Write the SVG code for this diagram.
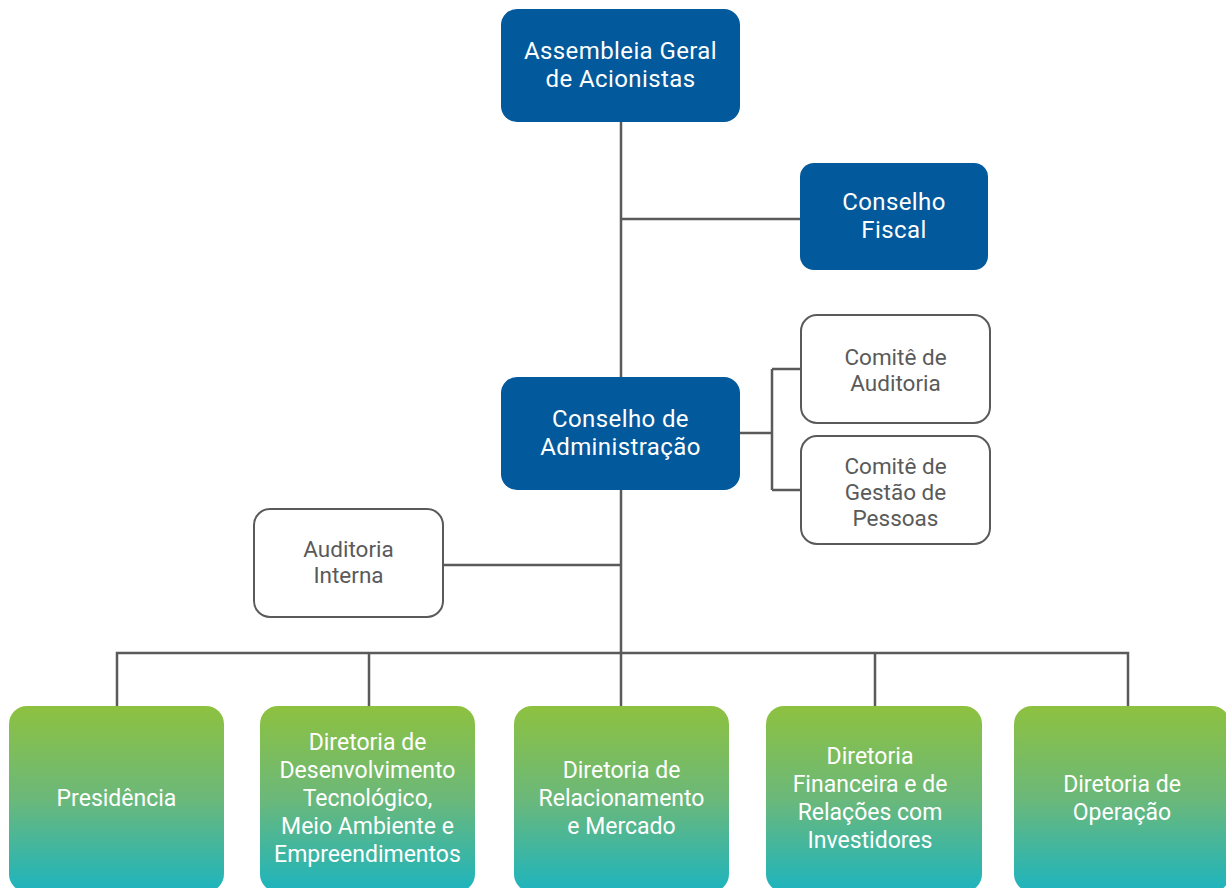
<svg xmlns="http://www.w3.org/2000/svg" width="1226" height="888" viewBox="0 0 1226 888">
<style>
.blue{fill:#02599b}
.white{fill:#fff;stroke:#5a5a5a;stroke-width:2}
.grad{fill:url(#g)}
.tw{fill:#fff;font-family:Roboto,"Liberation Sans",sans-serif;font-size:24px;letter-spacing:0.4px;text-anchor:middle}
.tg{fill:#5a5a5a;font-family:Roboto,"Liberation Sans",sans-serif;font-size:22.5px;text-anchor:middle}
.tb{fill:#fff;font-family:Roboto,"Liberation Sans",sans-serif;font-size:23px;text-anchor:middle}
.c{fill:none;stroke:#5a5a5a;stroke-width:2.5}
</style>
<defs>
<linearGradient id="g" x1="0" y1="0" x2="0" y2="1">
<stop offset="0" stop-color="#8dc13f"/>
<stop offset="0.5" stop-color="#6bb87a"/>
<stop offset="1" stop-color="#1db4bf"/>
</linearGradient>
</defs>
<rect width="1226" height="888" fill="#fff"/>
<g id="connectors">
<path class="c" d="M621 122V706"/>
<path class="c" d="M621 219H800"/>
<path class="c" d="M740 433H772M772 369V490M772 369H801M772 490H801"/>
<path class="c" d="M443 565H621"/>
<path class="c" d="M117 706V653H1128V706M369 653V706M875 653V706"/>
</g>
<g id="assembleia">
<rect class="blue" x="501" y="9" width="239" height="113" rx="16"/>
<text class="tw" x="620.5" y="59">Assembleia Geral</text>
<text class="tw" x="620.5" y="87">de Acionistas</text>
</g>
<g id="conselho-fiscal">
<rect class="blue" x="800" y="163" width="188" height="107" rx="14"/>
<text class="tw" x="894" y="210">Conselho</text>
<text class="tw" x="894" y="238">Fiscal</text>
</g>
<g id="conselho-adm">
<rect class="blue" x="501" y="377" width="239" height="113" rx="16"/>
<text class="tw" x="620.5" y="427">Conselho de</text>
<text class="tw" x="620.5" y="455">Administração</text>
</g>
<g id="comite-auditoria">
<rect class="white" x="801" y="315" width="189" height="108" rx="16"/>
<text class="tg" x="895.5" y="365">Comitê de</text>
<text class="tg" x="895.5" y="391">Auditoria</text>
</g>
<g id="comite-gestao">
<rect class="white" x="801" y="436" width="189" height="108" rx="16"/>
<text class="tg" x="895.5" y="474">Comitê de</text>
<text class="tg" x="895.5" y="500">Gestão de</text>
<text class="tg" x="895.5" y="526">Pessoas</text>
</g>
<g id="auditoria-interna">
<rect class="white" x="254" y="509" width="189" height="108" rx="16"/>
<text class="tg" x="348.5" y="557">Auditoria</text>
<text class="tg" x="348.5" y="583">Interna</text>
</g>
<g id="presidencia">
<rect class="grad" x="9" y="706" width="215" height="186" rx="18"/>
<text class="tb" x="116.5" y="806">Presidência</text>
</g>
<g id="dir-desenvolvimento">
<rect class="grad" x="260" y="706" width="215" height="186" rx="18"/>
<text class="tb" x="367.5" y="750">Diretoria de</text>
<text class="tb" x="367.5" y="778">Desenvolvimento</text>
<text class="tb" x="367.5" y="806">Tecnológico,</text>
<text class="tb" x="367.5" y="834">Meio Ambiente e</text>
<text class="tb" x="367.5" y="862">Empreendimentos</text>
</g>
<g id="dir-relacionamento">
<rect class="grad" x="514" y="706" width="215" height="186" rx="18"/>
<text class="tb" x="621.5" y="778">Diretoria de</text>
<text class="tb" x="621.5" y="806">Relacionamento</text>
<text class="tb" x="621.5" y="834">e Mercado</text>
</g>
<g id="dir-financeira">
<rect class="grad" x="766" y="706" width="216" height="186" rx="18"/>
<text class="tb" x="870" y="764">Diretoria</text>
<text class="tb" x="870" y="792">Financeira e de</text>
<text class="tb" x="870" y="820">Relações com</text>
<text class="tb" x="870" y="848">Investidores</text>
</g>
<g id="dir-operacao">
<rect class="grad" x="1014" y="706" width="216" height="186" rx="18"/>
<text class="tb" x="1122" y="792">Diretoria de</text>
<text class="tb" x="1122" y="820">Operação</text>
</g>
</svg>
